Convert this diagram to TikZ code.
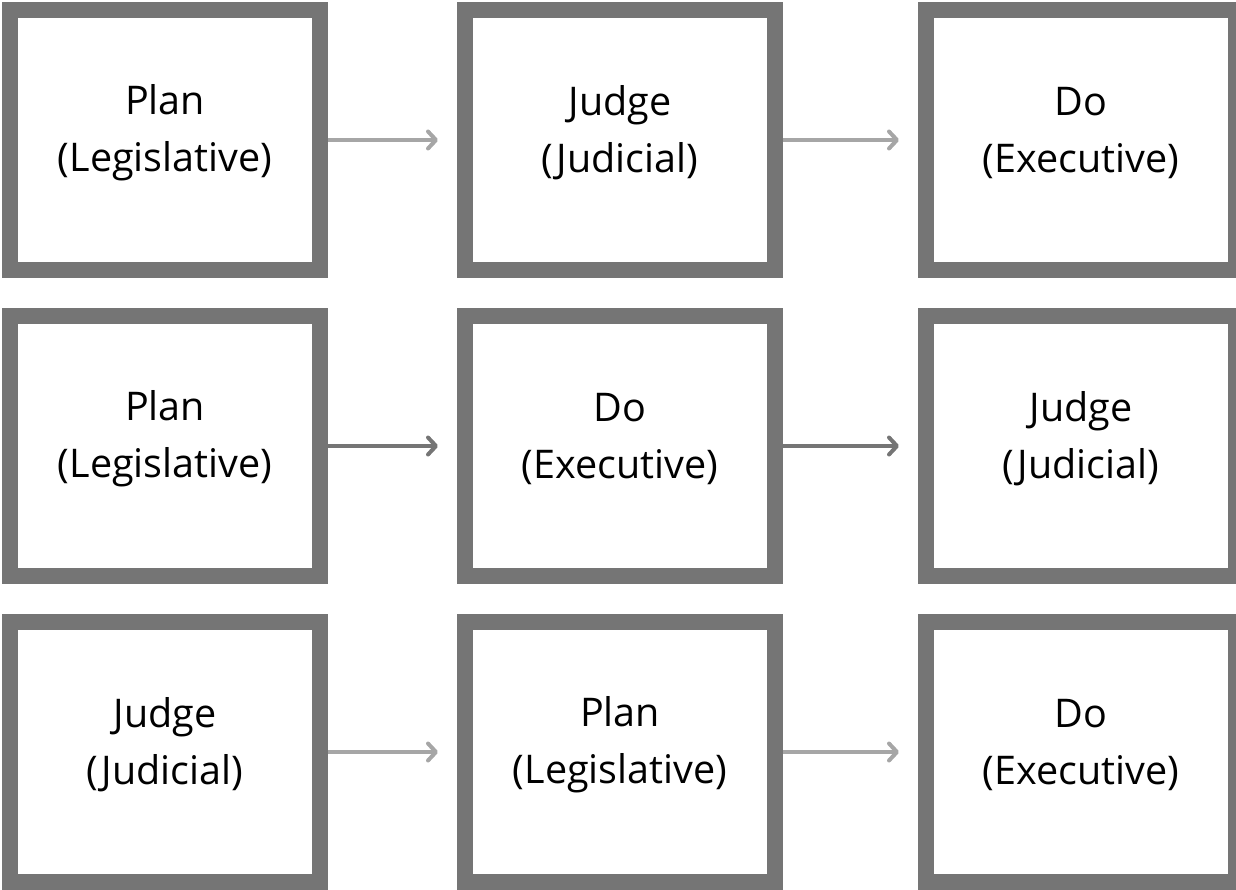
\documentclass[tikz,border=0pt]{standalone}
\usepackage{fontspec}
\setmainfont{Open Sans}
\usetikzlibrary{arrows.meta,positioning}
\definecolor{boxgray}{HTML}{757575}
\definecolor{lightarrow}{HTML}{A6A6A6}
\definecolor{darkarrow}{HTML}{757575}
\tikzstyle{box} = [rectangle, draw=boxgray, line width=16pt, fill=white,
    minimum width=310pt, minimum height=260pt, inner sep=0pt,
    label={[font=\fontsize{39.5}{57}\selectfont, align=center, yshift=7pt]center:#1}]
\tikzstyle{link} = [line width=4pt, shorten >=19pt,
    -{Straight Barb[length=8pt,width=17pt,round]}]

\begin{document}
\begin{tikzpicture}[x=1pt,y=-1pt,node distance=30pt and 129pt]
  \useasboundingbox (0,0) rectangle (1236,890);
  % first row
  \node[box={Plan\\(Legislative)}] (p1) at (165,140) {};
  \node[box={Judge\\(Judicial)}] (j1) [right=of p1] {};
  \node[box={Do\\(Executive)}] (d1) [right=135pt of j1] {};
  % second row
  \node[box={Plan\\(Legislative)}] (p2) [below=of p1] {};
  \node[box={Do\\(Executive)}] (d2) [right=of p2] {};
  \node[box={Judge\\(Judicial)}] (j2) [right=135pt of d2] {};
  % third row
  \node[box={Judge\\(Judicial)}] (j3) [below=of p2] {};
  \node[box={Plan\\(Legislative)}] (p3) [right=of j3] {};
  \node[box={Do\\(Executive)}] (d3) [right=135pt of p3] {};

  \draw[link,lightarrow] (p1) -- (j1);
  \draw[link,lightarrow] (j1) -- (d1);
  \draw[link,darkarrow] (p2) -- (d2);
  \draw[link,darkarrow] (d2) -- (j2);
  \draw[link,lightarrow] (j3) -- (p3);
  \draw[link,lightarrow] (p3) -- (d3);
\end{tikzpicture}
\end{document}
